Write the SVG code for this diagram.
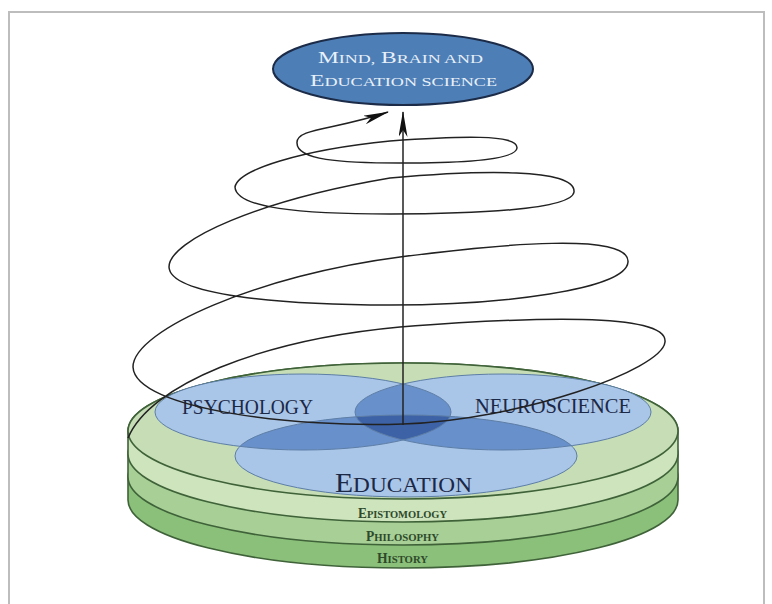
<svg xmlns="http://www.w3.org/2000/svg" width="772" height="604" viewBox="0 0 772 604">
<style>
.frame{fill:none;stroke:#bdbdbd;stroke-width:2}
.layer{stroke:#3f6239;stroke-width:1.6}
.venn{fill:#a9c5e8}
.vout{fill:none;stroke:#5d7ea6;stroke-width:1}
.ov2{fill:#6890ca}
.ov3{fill:#3d62a6}
.lbl{font-family:"Liberation Serif","Times New Roman",serif;fill:#1b2846}
.glbl{font-family:"Liberation Serif","Times New Roman",serif;fill:#2e4a2a;font-weight:bold}
.wl{font-family:"Liberation Serif","Times New Roman",serif;fill:#e8f0fa}
.conn{fill:none;stroke:#222;stroke-width:1.5}
</style>
<defs>
<marker id="ah" viewBox="0 0 26 9" refX="25" refY="4.5" markerWidth="26" markerHeight="9" markerUnits="userSpaceOnUse" orient="auto">
<path d="M0,0 L26,4.5 L0,9 L7,4.5 Z" fill="#111"/>
</marker>
<clipPath id="cpP"><ellipse cx="303" cy="412" rx="148" ry="38"/></clipPath>
<clipPath id="cpN"><ellipse cx="503" cy="412" rx="148" ry="38"/></clipPath>
<clipPath id="cpE"><ellipse cx="406" cy="456" rx="171" ry="41"/></clipPath>
</defs>
<rect class="frame" x="9" y="12" width="755" height="620"/>

<g id="history">
<path class="layer" fill="#8bc07a" d="M128,477 A275,68 0 0 1 678,477 L678,500 A275,68 0 0 1 128,500 Z"/>
<text class="glbl" x="402.5" y="563" text-anchor="middle" textLength="51" lengthAdjust="spacingAndGlyphs"><tspan font-size="14">H</tspan><tspan font-size="11">ISTORY</tspan></text>
</g>
<g id="philosophy">
<path class="layer" fill="#a7cf96" d="M128,454 A275,68 0 0 1 678,454 L678,477 A275,68 0 0 1 128,477 Z"/>
<text class="glbl" x="402.5" y="541" text-anchor="middle" textLength="73" lengthAdjust="spacingAndGlyphs"><tspan font-size="14">P</tspan><tspan font-size="11">HILOSOPHY</tspan></text>
</g>
<g id="epistomology">
<path class="layer" fill="#cde4bd" d="M128,431 A275,68 0 0 1 678,431 L678,454 A275,68 0 0 1 128,454 Z"/>
<text class="glbl" x="402.5" y="518" text-anchor="middle" textLength="89" lengthAdjust="spacingAndGlyphs"><tspan font-size="14">E</tspan><tspan font-size="11">PISTOMOLOGY</tspan></text>
</g>
<g id="surface">
<ellipse class="layer" cx="403" cy="431" rx="275" ry="68" fill="#c6ddb5"/>
</g>

<g id="venn-fills">
<ellipse class="venn" cx="303" cy="412" rx="148" ry="38"/>
<ellipse class="venn" cx="503" cy="412" rx="148" ry="38"/>
<ellipse class="venn" cx="406" cy="456" rx="171" ry="41"/>
<g clip-path="url(#cpP)"><ellipse class="ov2" cx="503" cy="412" rx="148" ry="38"/><ellipse class="ov2" cx="406" cy="456" rx="171" ry="41"/></g>
<g clip-path="url(#cpN)"><ellipse class="ov2" cx="406" cy="456" rx="171" ry="41"/></g>
<g clip-path="url(#cpP)"><g clip-path="url(#cpN)"><ellipse class="ov3" cx="406" cy="456" rx="171" ry="41"/></g></g>
</g>
<g id="psychology">
<ellipse class="vout" cx="303" cy="412" rx="148" ry="38"/>
<text class="lbl" x="247.5" y="414" font-size="20" text-anchor="middle" textLength="131" lengthAdjust="spacingAndGlyphs">PSYCHOLOGY</text>
</g>
<g id="neuroscience">
<ellipse class="vout" cx="503" cy="412" rx="148" ry="38"/>
<text class="lbl" x="553" y="413" font-size="20" text-anchor="middle" textLength="156" lengthAdjust="spacingAndGlyphs">NEUROSCIENCE</text>
</g>
<g id="education">
<ellipse class="vout" cx="406" cy="456" rx="171" ry="41"/>
<text class="lbl" x="403.5" y="492" text-anchor="middle" textLength="137" lengthAdjust="spacingAndGlyphs"><tspan font-size="28">E</tspan><tspan font-size="22">DUCATION</tspan></text>
</g>

<g id="mbe">
<ellipse cx="403" cy="69" rx="130" ry="36" fill="#4d7eb5" stroke="#1b2b48" stroke-width="2"/>
<text class="wl" x="400.5" y="63" text-anchor="middle" textLength="165" lengthAdjust="spacingAndGlyphs"><tspan font-size="17">M</tspan><tspan font-size="13">IND,</tspan><tspan font-size="17"> B</tspan><tspan font-size="13">RAIN AND</tspan></text>
<text class="wl" x="403.5" y="86" text-anchor="middle" textLength="187" lengthAdjust="spacingAndGlyphs"><tspan font-size="17">E</tspan><tspan font-size="13">DUCATION SCIENCE</tspan></text>
</g>

<g id="connectors">
<path id="spiral" class="conn" marker-end="url(#ah)" d="M128,438 C150,385 260,340 400,327 C530,317 668,312 665,342 C662,370 520,420 403,424 C300,428 135,410 133,367 C133,330 260,275 400,257 C500,244 630,232 628,262 C626,290 500,305 390,305 C280,305 170,295 169,267 C169,240 260,200 390,178 C480,170 576,168 574,192 C572,210 470,214 390,214 C300,214 236,208 235,187 C238,170 300,150 390,141 C460,136 518,134 517,148 C516,160 460,163 400,163 C340,163 297,160 297,143 C296,128 335,130 388,112"/>
<line id="axis" class="conn" x1="403" y1="425" x2="403" y2="112" marker-end="url(#ah)"/>
</g>
</svg>
